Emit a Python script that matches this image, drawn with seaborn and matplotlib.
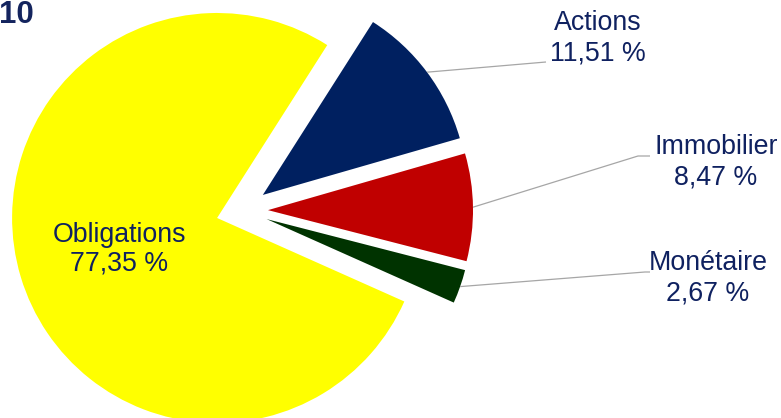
import numpy as np
import matplotlib
matplotlib.use("Agg")
import matplotlib.pyplot as plt
import seaborn as sns

# Allocation data
categories = ["Actions", "Immobilier", "Monétaire", "Obligations"]
shares = [11.51, 8.47, 2.67, 77.35]
colors = ["#002060", "#C00000", "#003300", "#FFFF00"]
title_text = "10"

sns.set_theme(style="white")
plt.rcParams["font.family"] = ["Liberation Sans", "DejaVu Sans"]

W, H = 781, 418
fig = plt.figure(figsize=(W / 100, H / 100), dpi=100)
ax = fig.add_axes([0, 0, 1, 1])

text_color = "#0f2160"
line_color = "#a6a6a6"
radius = 205
center = (242, H - 210.5)

wedges, _ = ax.pie(
    shares,
    colors=colors,
    startangle=57.5,
    counterclock=False,
    radius=radius,
    center=center,
    explode=[26] * len(shares),
    wedgeprops=dict(linewidth=0, antialiased=True),
)
ax.set_xlim(0, W)
ax.set_ylim(0, H)
ax.set_aspect("equal")
ax.axis("off")


def fmt(v):
    return f"{v:.2f}".replace(".", ",") + " %"


def Y(y):
    return H - y


fs = 19.3

# Outside labels with leader lines: (label x centre, name y, value y, elbow point, end point)
outside = {
    "Actions": (598, 23, 53, (546, 62), None),
    "Immobilier": (716, 147, 178, (638, 156), (650, 156)),
    "Monétaire": (708, 263, 293, (645, 272), (650, 272)),
}

for w, cat, val in zip(wedges, categories, shares):
    if cat in outside:
        lx, ny, vy, elbow, end = outside[cat]
        mid = np.deg2rad((w.theta1 + w.theta2) / 2)
        cx, cy = w.center
        sx, sy = cx + w.r * np.cos(mid), cy + w.r * np.sin(mid)
        xs = [sx, elbow[0]]
        ys = [sy, Y(elbow[1])]
        if end is not None:
            xs.append(end[0])
            ys.append(Y(end[1]))
        ax.plot(xs, ys, color=line_color, lw=0.9, solid_capstyle="butt")
        ax.text(lx, Y(ny), cat, ha="center", va="center", fontsize=fs, color=text_color)
        ax.text(lx, Y(vy), fmt(val), ha="center", va="center", fontsize=fs, color=text_color)
    else:
        ax.text(119, Y(235), cat, ha="center", va="center", fontsize=fs, color=text_color)
        ax.text(119, Y(263), fmt(val), ha="center", va="center", fontsize=fs, color=text_color)

ax.text(-1, Y(15), title_text, ha="left", va="center", fontsize=22.5,
        fontweight="bold", color="#14245e")

fig.savefig("out.png", dpi=100, facecolor="white")
